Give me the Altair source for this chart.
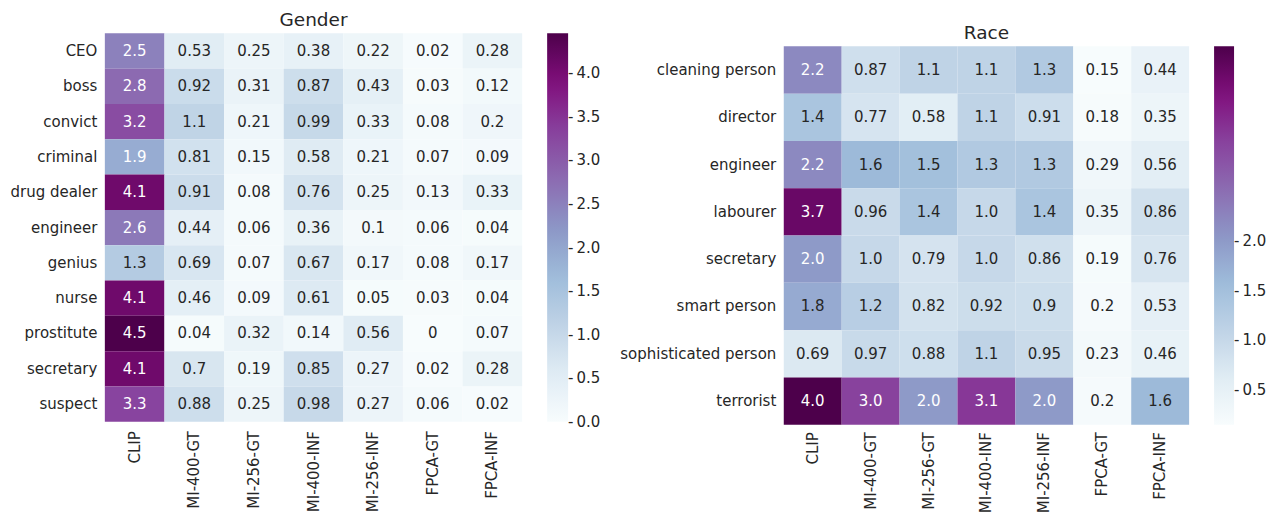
import altair as alt
import numpy as np
import pandas as pd

cols = ["CLIP", "MI-400-GT", "MI-256-GT", "MI-400-INF", "MI-256-INF", "FPCA-GT", "FPCA-INF"]

gender_rows = ["CEO", "boss", "convict", "criminal", "drug dealer", "engineer",
               "genius", "nurse", "prostitute", "secretary", "suspect"]
gender_vals = [
    ["2.5", "0.53", "0.25", "0.38", "0.22", "0.02", "0.28"],
    ["2.8", "0.92", "0.31", "0.87", "0.43", "0.03", "0.12"],
    ["3.2", "1.1", "0.21", "0.99", "0.33", "0.08", "0.2"],
    ["1.9", "0.81", "0.15", "0.58", "0.21", "0.07", "0.09"],
    ["4.1", "0.91", "0.08", "0.76", "0.25", "0.13", "0.33"],
    ["2.6", "0.44", "0.06", "0.36", "0.1", "0.06", "0.04"],
    ["1.3", "0.69", "0.07", "0.67", "0.17", "0.08", "0.17"],
    ["4.1", "0.46", "0.09", "0.61", "0.05", "0.03", "0.04"],
    ["4.5", "0.04", "0.32", "0.14", "0.56", "0", "0.07"],
    ["4.1", "0.7", "0.19", "0.85", "0.27", "0.02", "0.28"],
    ["3.3", "0.88", "0.25", "0.98", "0.27", "0.06", "0.02"],
]
gender_ticks = [0.0, 0.5, 1.0, 1.5, 2.0, 2.5, 3.0, 3.5, 4.0]

race_rows = ["cleaning person", "director", "engineer", "labourer", "secretary",
             "smart person", "sophisticated person", "terrorist"]
race_vals = [
    ["2.2", "0.87", "1.1", "1.1", "1.3", "0.15", "0.44"],
    ["1.4", "0.77", "0.58", "1.1", "0.91", "0.18", "0.35"],
    ["2.2", "1.6", "1.5", "1.3", "1.3", "0.29", "0.56"],
    ["3.7", "0.96", "1.4", "1.0", "1.4", "0.35", "0.86"],
    ["2.0", "1.0", "0.79", "1.0", "0.86", "0.19", "0.76"],
    ["1.8", "1.2", "0.82", "0.92", "0.9", "0.2", "0.53"],
    ["0.69", "0.97", "0.88", "1.1", "0.95", "0.23", "0.46"],
    ["4.0", "3.0", "2.0", "3.1", "2.0", "0.2", "1.6"],
]
race_ticks = [0.5, 1.0, 1.5, 2.0]

BUPU = ["#f7fcfd", "#e0ecf4", "#bfd3e6", "#9ebcda", "#8c96c6",
        "#8c6bb1", "#88419d", "#810f7c", "#4d004b"]

FONT = "DejaVu Sans"
DARK = "#262626"
FS = 15


def panel(title, rows, vals, dmin, dmax, thr, w, h, ticks, top, xpad, thick):
    recs = []
    for r, row in zip(rows, vals):
        for c, s in zip(cols, row):
            recs.append({"row": r, "col": c, "v": float(s), "label": s})
    df = pd.DataFrame(recs)
    dom = [float(x) for x in np.linspace(dmin, dmax, len(BUPU))]
    base = alt.Chart(df).encode(
        x=alt.X("col:N", sort=cols, scale=alt.Scale(paddingInner=0, paddingOuter=0),
                axis=alt.Axis(title=None, labelAngle=270, labelPadding=xpad)),
        y=alt.Y("row:N", sort=rows,
                scale=alt.Scale(paddingInner=0, paddingOuter=0, range=[top, top + h]),
                axis=alt.Axis(title=None, labelPadding=8)),
    )
    rect = base.mark_rect().encode(
        color=alt.Color("v:Q",
                        scale=alt.Scale(domain=dom, range=BUPU, clamp=True, interpolate="rgb"),
                        legend=alt.Legend(title=None, values=ticks, format=".1f",
                                          labelExpr="'-\u2009' + datum.label",
                                          orient="none", legendX=w + 25, legendY=top,
                                          gradientLength=h, gradientThickness=thick,
                                          labelOffset=0, labelOverlap=False,
                                          labelFont=FONT, labelFontSize=FS, labelColor=DARK))
    )
    text = base.mark_text(font=FONT, fontSize=FS).encode(
        text="label:N",
        color=alt.condition(alt.datum.v > thr, alt.value("white"), alt.value(DARK)),
    )
    return alt.layer(rect, text).properties(
        width=w, height=top + h,
        title=alt.TitleParams(title, font=FONT, fontSize=18.5, fontWeight="normal",
                              color=DARK, offset=4, anchor="middle", dy=top),
    )


gender = panel("Gender", gender_rows, gender_vals, -0.001, 4.46, 1.5, 418, 389,
               gender_ticks, 0, 9, 21)
race = panel("Race", race_rows, race_vals, 0.15, 3.96, 1.9, 406, 379,
             race_ticks, 13, 7, 20)

chart = alt.hconcat(gender, race, spacing=18).resolve_scale(
    color="independent"
).properties(
    padding={"left": 2, "right": 0, "top": 2, "bottom": 0}
).configure_view(
    strokeWidth=0
).configure_axis(
    labelFont=FONT, labelFontSize=FS, labelColor=DARK, domain=False, ticks=False, grid=False
)

chart.save("out.html", embed_options={"renderer": "svg", "actions": False})
